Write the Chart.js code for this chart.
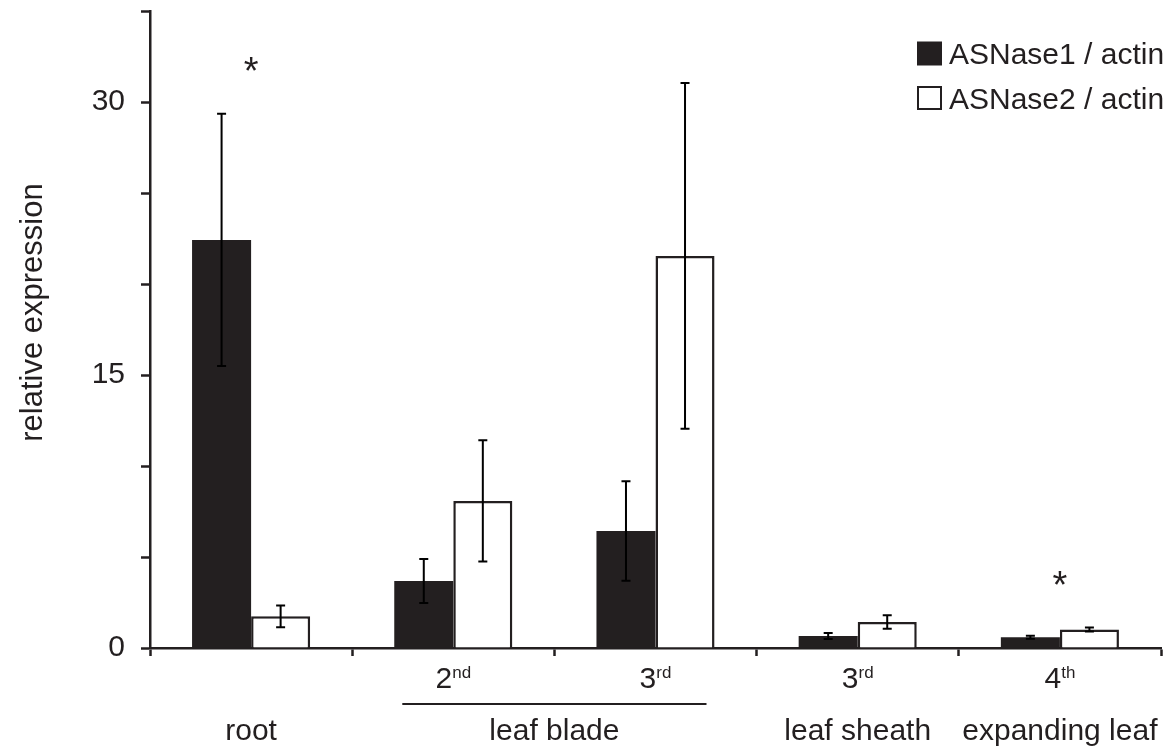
<!DOCTYPE html>
<html><head><meta charset="utf-8">
<script src="https://cdn.jsdelivr.net/npm/chart.js@4/dist/chart.umd.min.js"></script>
<style>html,body{margin:0;padding:0;background:#fff;} #wrap{width:1175px;height:746px;}</style>
</head><body><div id="wrap"><canvas id="c" width="1175" height="746"></canvas></div>
<script>
// ---- data ----
const categories = ['root', '2nd leaf blade', '3rd leaf blade', '3rd leaf sheath', '4th expanding leaf'];
const tickNumber = ['', '2', '3', '3', '4'];
const tickSuffix = ['', 'nd', 'rd', 'rd', 'th'];
const groupNames = ['root', 'leaf blade', 'leaf sheath', 'expanding leaf'];
const groupFirst = [0, 1, 3, 4];
const groupLast  = [0, 2, 3, 4];
const seriesNames = ['ASNase1 / actin', 'ASNase2 / actin'];
const asnase1   = [22.42, 3.68, 6.43, 0.66, 0.59];
const asnase1Sd = [6.93, 1.21, 2.73, 0.165, 0.085];
const asnase2   = [1.74, 8.08, 21.54, 1.43, 1.01];
const asnase2Sd = [0.60, 3.33, 9.50, 0.37, 0.11];
const significant = [true, false, false, false, true];
const yTickLabels = [0, 15, 30];
const yTitle = 'relative expression';

const INK = '#231f20';
const FONT = '"Liberation Sans", Arial, Helvetica, sans-serif';

const overlay = {
  id: 'overlay',
  afterDatasetsDraw(chart) {
    const ctx = chart.ctx, ys = chart.scales.y, xs = chart.scales.x;
    const sds = [asnase1Sd, asnase2Sd];
    ctx.save();
    // error bars
    ctx.strokeStyle = '#000'; ctx.lineWidth = 2;
    sds.forEach((sd, di) => {
      const meta = chart.getDatasetMeta(di);
      const vals = chart.data.datasets[di].data;
      meta.data.forEach((bar, i) => {
        const top = ys.getPixelForValue(vals[i] + sd[i]);
        const bot = ys.getPixelForValue(vals[i] - sd[i]);
        const cx = bar.x;
        ctx.beginPath();
        ctx.moveTo(cx, top); ctx.lineTo(cx, bot);
        ctx.moveTo(cx - 4.5, top); ctx.lineTo(cx + 4.5, top);
        ctx.moveTo(cx - 4.5, bot); ctx.lineTo(cx + 4.5, bot);
        ctx.stroke();
      });
    });
    // significance stars
    ctx.fillStyle = INK;
    ctx.font = '38px ' + FONT;
    ctx.textAlign = 'center'; ctx.textBaseline = 'alphabetic';
    significant.forEach((s, i) => {
      if (!s) return;
      const up = Math.max(asnase1[i] + asnase1Sd[i], asnase2[i] + asnase2Sd[i]);
      const cy = ys.getPixelForValue(up) - 46;
      ctx.fillText('*', xs.getPixelForValue(i), cy + 16);
    });
    // x tick labels with superscripts
    const axisY = xs.top;
    ctx.textAlign = 'left';
    categories.forEach((c, i) => {
      if (!tickNumber[i]) return;
      ctx.font = '30px ' + FONT;
      const w1 = ctx.measureText(tickNumber[i]).width;
      ctx.font = '17px ' + FONT;
      const w2 = ctx.measureText(tickSuffix[i]).width;
      const start = xs.getPixelForValue(i) - (w1 + w2) / 2;
      ctx.font = '30px ' + FONT;
      ctx.fillText(tickNumber[i], start, axisY + 40);
      ctx.font = '17px ' + FONT;
      ctx.fillText(tickSuffix[i], start + w1, axisY + 30);
    });
    // group labels
    ctx.font = '30px ' + FONT;
    ctx.textAlign = 'center';
    ctx.strokeStyle = INK; ctx.lineWidth = 2;
    groupNames.forEach((g, k) => {
      const a = xs.getPixelForValue(groupFirst[k]);
      const b = xs.getPixelForValue(groupLast[k]);
      ctx.fillText(g, (a + b) / 2, axisY + 92);
      if (groupLast[k] > groupFirst[k]) {
        ctx.beginPath();
        ctx.moveTo(a - 51, axisY + 56); ctx.lineTo(b + 51, axisY + 56);
        ctx.stroke();
      }
    });
    // y title
    ctx.save();
    ctx.translate(41.5, 312.5);
    ctx.rotate(-Math.PI / 2);
    ctx.font = '31px ' + FONT;
    ctx.textAlign = 'center';
    ctx.fillText(yTitle, 0, 0);
    ctx.restore();
    // legend
    ctx.font = '30px ' + FONT;
    ctx.textAlign = 'left';
    chart.data.datasets.forEach((ds, di) => {
      const top = 41.5 + di * 44.5;
      if (di === 0) {
        ctx.fillStyle = ds.backgroundColor;
        ctx.fillRect(917, top, 25, 24);
      } else {
        ctx.fillStyle = '#fff';
        ctx.fillRect(918, top + 1, 23, 22);
        ctx.strokeStyle = INK; ctx.lineWidth = 2;
        ctx.strokeRect(918, top + 1, 23, 22);
      }
      ctx.fillStyle = INK;
      ctx.fillText(ds.label, 949, top + 22.5);
    });
    ctx.restore();
  }
};

new Chart(document.getElementById('c'), {
  type: 'bar',
  data: {
    labels: categories,
    datasets: [
      { label: seriesNames[0], data: asnase1, backgroundColor: INK, borderWidth: 0,
        categoryPercentage: 0.584, barPercentage: 1 },
      { label: seriesNames[1], data: asnase2, backgroundColor: '#ffffff', borderColor: INK, borderWidth: 2.5,
        categoryPercentage: 0.584, barPercentage: 1 }
    ]
  },
  options: {
    responsive: false, animation: false, devicePixelRatio: 1,
    layout: { padding: { top: 11, right: 14, left: 0, bottom: 0 } },
    plugins: { legend: { display: false }, tooltip: { enabled: false } },
    scales: {
      x: {
        offset: true,
        grid: { offset: true, drawOnChartArea: false, drawTicks: true, tickLength: 8, tickWidth: 2.5, tickColor: INK, color: INK },
        border: { display: true, color: INK, width: 2.5 },
        ticks: { display: false },
        afterFit(s) { s.height = 98; s.paddingLeft = 0; s.paddingRight = 0; }
      },
      y: {
        min: 0, max: 35,
        ticks: { stepSize: 5, callback: v => yTickLabels.includes(v) ? String(v) : '',
                 font: { family: FONT, size: 30 }, color: INK, padding: 16 },
        grid: { drawOnChartArea: false, tickLength: 9, tickWidth: 2.5, tickColor: INK, color: INK },
        border: { color: INK, width: 2.5 },
        afterFit(s) { s.width = 150; s.paddingTop = 0; s.paddingBottom = 0; }
      }
    }
  },
  plugins: [overlay]
});
</script>
</body></html>
